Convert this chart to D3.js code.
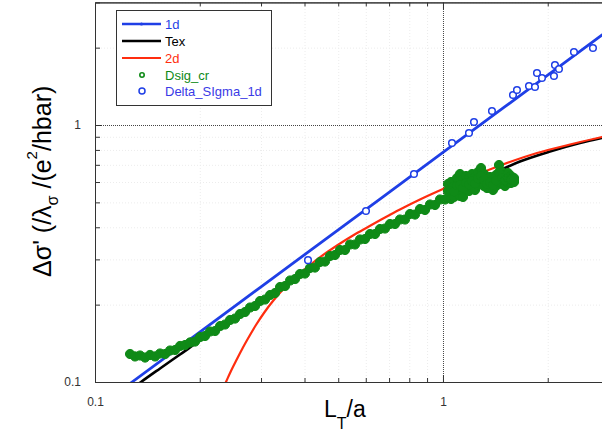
<!DOCTYPE html>
<html><head><meta charset="utf-8">
<script src="https://cdn.jsdelivr.net/npm/d3@7"></script>
<style>
body{margin:0;background:#fff;}
svg{display:block;font-family:"Liberation Sans",Arial,sans-serif;}
</style></head><body>
<svg id="chart" width="602" height="434"></svg>
<script>
// ---------------- data ----------------
const majorTicks = [0.1, 1];
const majorTickLabels = ["0.1", "1"];
const minorTicks = [0.2, 0.3, 0.4, 0.5, 0.6, 0.7, 0.8, 0.9, 2, 3];
const seriesNames = ["1d", "Tex", "2d", "Dsig_cr", "Delta_SIgma_1d"];

const x1d = [0.12, 0.1278, 0.2, 0.3, 0.5, 0.7, 1, 1.5, 2, 3];
const y1d = [0.0938, 0.1, 0.1564, 0.2346, 0.391, 0.5474, 0.782, 1.173, 1.564, 2.346];

const xTex = [0.1286, 0.1356, 0.1538, 0.1755, 0.2003, 0.2287, 0.2789, 0.3401, 0.4148, 0.5059, 0.6170, 0.7524, 0.9177, 1.1192, 1.3647, 1.6645, 2.0300, 2.4760, 3.0];
const yTex = [0.0948, 0.1, 0.1129, 0.1279, 0.1450, 0.1637, 0.1958, 0.2332, 0.2752, 0.3234, 0.3750, 0.4307, 0.4927, 0.5636, 0.6389, 0.7210, 0.7887, 0.8511, 0.9022];

const x2d = [0.2302, 0.2379, 0.2459, 0.2559, 0.2662, 0.2752, 0.2901, 0.3080, 0.3247, 0.3469, 0.3806, 0.4287, 0.4959, 0.5512, 0.6087, 0.6813, 0.7522, 0.8588, 1.0, 1.1957, 1.4871, 1.8627, 2.3173, 2.8637, 3.0];
const y2d = [0.0906, 0.1, 0.1104, 0.1229, 0.1362, 0.1476, 0.1666, 0.1881, 0.2066, 0.2290, 0.2585, 0.2957, 0.3397, 0.3716, 0.4010, 0.4365, 0.4690, 0.5130, 0.5636, 0.6249, 0.7020, 0.7782, 0.8396, 0.8982, 0.9103];

const xDsig = [
  0.1261,0.1303,0.1347,0.1393,0.1439,0.1488,0.1538,0.1590,0.1643,0.1699,0.1756,0.1815,0.1876,0.1939,0.2004,0.2071,
  0.2141,0.2213,0.2288,0.2365,0.2444,0.2526,0.2611,0.2699,0.2790,0.2884,0.2981,0.3081,0.3185,0.3292,0.3403,0.3517,
  0.3636,0.3758,0.3882,0.4013,0.4148,0.4287,0.4432,0.4581,0.4735,0.4894,0.5059,0.5229,0.5405,0.5587,0.5775,0.5969,
  0.6170,0.6378,0.6592,0.6814,0.7043,0.7280,0.7524,0.7778,0.8039,0.8310,0.8589,0.8878,0.9177,0.9486,0.9805,1.0135,
  1.0337,1.0544,1.0756,1.0972,1.1192,1.1416,1.1645,1.1879,1.2117,1.2360,1.2608,1.2861,1.3119,1.3382,1.3650,1.3924,1.4203,1.4488,1.4779,1.5075,1.5378,1.5686,1.6001,
  1.0337,1.0544,1.0756,1.0972,1.1192,1.1416,1.1645,1.1879,1.2117,1.2360,1.2608,1.2861,1.3119,1.3382,1.3650,1.3924,1.4203,1.4488,1.4779,1.5075,1.5378,1.5686,1.6001,
  1.0337,1.0544,1.0756,1.0972,1.1192,1.1416,1.1645,1.1879,1.2117,1.2360,1.2608,1.2861,1.3119,1.3382,1.3650,1.3924,1.4203,1.4488,1.4779,1.5075,1.5378,1.5686,1.6001
];
const yDsig = [
  0.1285,0.1257,0.1268,0.1245,0.1274,0.1257,0.1291,0.1285,0.1326,0.1332,0.1381,0.1393,0.1425,0.1437,0.1496,0.1510,
  0.1572,0.1579,0.1651,0.1674,0.1743,0.1766,0.1839,0.1872,0.1949,0.1976,0.2066,0.2094,0.2180,0.2220,0.2342,0.2363,
  0.2483,0.2516,0.2631,0.2643,0.2777,0.2789,0.2930,0.2943,0.3092,0.3120,0.3263,0.3263,0.3428,0.3428,0.3585,0.3601,
  0.3766,0.3766,0.3938,0.3956,0.4119,0.4119,0.4288,0.4288,0.4505,0.4484,0.4711,0.4669,0.4905,0.4883,0.5130,0.5130,
  0.5894,0.6000,0.5789,0.6219,0.6447,0.6164,0.6332,0.6219,0.6447,0.6276,0.6563,0.6803,0.6447,0.6109,0.6276,0.6109,0.6389,0.6988,0.6563,0.6389,0.6505,0.6332,0.6219,
  0.5199,0.5153,0.5246,0.5437,0.5293,0.5246,0.5585,0.5535,0.5686,0.5585,0.5841,0.5894,0.5789,0.5686,0.5686,0.5585,0.5789,0.6109,0.5894,0.5789,0.5947,0.5947,0.6000,
  0.5535,0.5560,0.5510,0.5815,0.5841,0.5686,0.5947,0.5867,0.6054,0.5921,0.6191,0.6332,0.6109,0.5894,0.5973,0.5841,0.6081,0.6534,0.6219,0.6081,0.6219,0.6136,0.6109
];

const xDelta = [0.4094, 0.6008, 0.8254, 1.0614, 1.1878, 1.2277, 1.3829, 1.5892, 1.6318, 1.7668, 1.8383, 1.8627, 1.9253, 2.0843, 2.0981, 2.1544, 2.3792, 2.6979];
const yDelta = [0.298, 0.463, 0.645, 0.851, 0.931, 1.027, 1.134, 1.308, 1.368, 1.418, 1.406, 1.593, 1.523, 1.551, 1.712, 1.652, 1.923, 1.993];

// ---------------- layout ----------------
const colors = {d1: "#1f3fe6", tex: "#000000", d2: "#ff2d0f", dsig: "#0f8a17"};
const L = 95, R = 609, T = 2.4, B = 382;
const svg = d3.select("#chart");
const x = d3.scaleLog().domain([0.1, 3]).range([L, R]);
const y = d3.scaleLog().domain([0.1, 3]).range([B, T]);

svg.append("defs").append("clipPath").attr("id", "clip")
  .append("rect").attr("x", L).attr("y", T).attr("width", R - L).attr("height", B - T);

// faint minor grid
const fg1 = svg.append("g").attr("transform", `translate(0,${B})`)
  .call(d3.axisBottom(x).tickValues(minorTicks).tickSize(-(B - T)).tickFormat(""));
const fg2 = svg.append("g").attr("transform", `translate(${L},0)`)
  .call(d3.axisLeft(y).tickValues(minorTicks).tickSize(-(R - L)).tickFormat(""));
[fg1, fg2].forEach(g => {
  g.select(".domain").remove();
  g.selectAll("line").attr("stroke", "#ececec").attr("stroke-dasharray", "1,2");
});

// major dotted grid
const mg1 = svg.append("g").attr("transform", `translate(0,${B})`)
  .call(d3.axisBottom(x).tickValues([1]).tickSize(-(B - T)).tickFormat(""));
const mg2 = svg.append("g").attr("transform", `translate(${L},0)`)
  .call(d3.axisLeft(y).tickValues([1]).tickSize(-(R - L)).tickFormat(""));
[mg1, mg2].forEach(g => {
  g.select(".domain").remove();
  g.selectAll("line").attr("stroke", "#444").attr("stroke-dasharray", "1,1");
});

// data
const plot = svg.append("g").attr("clip-path", "url(#clip)");
const lineLin = d3.line().x(d => x(d[0])).y(d => y(d[1]));
const lineSmooth = d3.line().x(d => x(d[0])).y(d => y(d[1])).curve(d3.curveMonotoneX);

plot.append("path").datum(x1d.map((v, i) => [v, y1d[i]]))
  .attr("d", lineLin).attr("fill", "none").attr("stroke", colors.d1).attr("stroke-width", 2.8);
plot.append("path").datum(xTex.map((v, i) => [v, yTex[i]]))
  .attr("d", lineSmooth).attr("fill", "none").attr("stroke", colors.tex).attr("stroke-width", 2.6);
plot.append("path").datum(x2d.map((v, i) => [v, y2d[i]]))
  .attr("d", lineSmooth).attr("fill", "none").attr("stroke", colors.d2).attr("stroke-width", 2.2);
plot.append("g").selectAll("circle").data(xDsig.map((v, i) => [v, yDsig[i]])).join("circle")
  .attr("cx", d => x(d[0])).attr("cy", d => y(d[1])).attr("r", 4.6)
  .attr("fill", colors.dsig).attr("stroke", colors.dsig).attr("stroke-width", 1);
plot.append("g").selectAll("circle").data(xDelta.map((v, i) => [v, yDelta[i]])).join("circle")
  .attr("cx", d => x(d[0])).attr("cy", d => y(d[1])).attr("r", 3.3)
  .attr("fill", "#fff").attr("stroke", colors.d1).attr("stroke-width", 1.5);

// axes
function styleAxis(g) {
  g.selectAll(".domain").attr("stroke", "#333");
  g.selectAll(".tick line").attr("stroke", "#333");
  g.selectAll("text").attr("font-size", 12).attr("fill", "#333")
    .attr("font-family", "'Liberation Sans', Arial, sans-serif");
}
const bMinor = svg.append("g").attr("transform", `translate(0,${B})`)
  .call(d3.axisBottom(x).tickValues(minorTicks).tickSize(-4).tickSizeOuter(0).tickFormat(""));
const bMajor = svg.append("g").attr("transform", `translate(0,${B})`)
  .call(d3.axisBottom(x).tickValues(majorTicks).tickSize(-7).tickSizeOuter(0).tickPadding(15)
    .tickFormat((d, i) => majorTickLabels[i]));
const tMinor = svg.append("g").attr("transform", `translate(0,${T})`)
  .call(d3.axisTop(x).tickValues(minorTicks).tickSize(-4).tickSizeOuter(0).tickFormat(""));
const tMajor = svg.append("g").attr("transform", `translate(0,${T})`)
  .call(d3.axisTop(x).tickValues([1]).tickSize(-7).tickSizeOuter(0).tickFormat(""));
const lMinor = svg.append("g").attr("transform", `translate(${L},0)`)
  .call(d3.axisLeft(y).tickValues(minorTicks).tickSize(-5).tickSizeOuter(0).tickFormat(""));
const lMajor = svg.append("g").attr("transform", `translate(${L},0)`)
  .call(d3.axisLeft(y).tickValues(majorTicks).tickSize(-7).tickSizeOuter(0).tickPadding(14)
    .tickFormat((d, i) => majorTickLabels[i]));
[bMinor, bMajor, tMinor, tMajor, lMinor, lMajor].forEach(styleAxis);

// axis titles
const xt = svg.append("text").attr("x", 324).attr("y", 417).attr("font-size", 23).attr("fill", "#000");
xt.append("tspan").text("L");
xt.append("tspan").attr("dy", 12).attr("font-size", 16).text("T");
xt.append("tspan").attr("dy", -12).text("/a");

const yt = svg.append("text").attr("transform", "translate(51,277) rotate(-90)")
  .attr("font-size", 25).attr("fill", "#000");
yt.append("tspan").text("Δσ' (/λ");
yt.append("tspan").attr("dy", 7).attr("font-size", 16).text("σ");
yt.append("tspan").attr("dy", -7).text(" /(e");
yt.append("tspan").attr("dy", -14).attr("font-size", 15).text("2");
yt.append("tspan").attr("dy", 14).text("/hbar)");

// legend
const lg = svg.append("g");
lg.append("rect").attr("x", 116.5).attr("y", 10.5).attr("width", 155).attr("height", 95)
  .attr("fill", "#fff").attr("stroke", "#333").attr("stroke-width", 1);
const rows = [24, 41, 58, 75, 91];
const legColors = [colors.d1, colors.tex, colors.d2, colors.dsig, colors.d1];
seriesNames.forEach((name, i) => {
  const cy = rows[i];
  if (i < 3) {
    lg.append("line").attr("x1", 122).attr("x2", 161).attr("y1", cy).attr("y2", cy)
      .attr("stroke", legColors[i]).attr("stroke-width", i === 2 ? 2.2 : 2.6);
    if (i === 0) lg.append("circle").attr("cx", 141.5).attr("cy", cy).attr("r", 1.6).attr("fill", colors.d1);
  } else if (i === 3) {
    lg.append("circle").attr("cx", 142).attr("cy", cy).attr("r", 2.2)
      .attr("fill", "none").attr("stroke", colors.dsig).attr("stroke-width", 1.6);
  } else {
    lg.append("circle").attr("cx", 142).attr("cy", cy).attr("r", 3)
      .attr("fill", "#fff").attr("stroke", colors.d1).attr("stroke-width", 1.5);
  }
  lg.append("text").attr("x", 165).attr("y", cy + 4.6).attr("font-size", 13)
    .attr("fill", i === 4 ? "#3a3ae6" : legColors[i]).text(name);
});
</script>
</body></html>
